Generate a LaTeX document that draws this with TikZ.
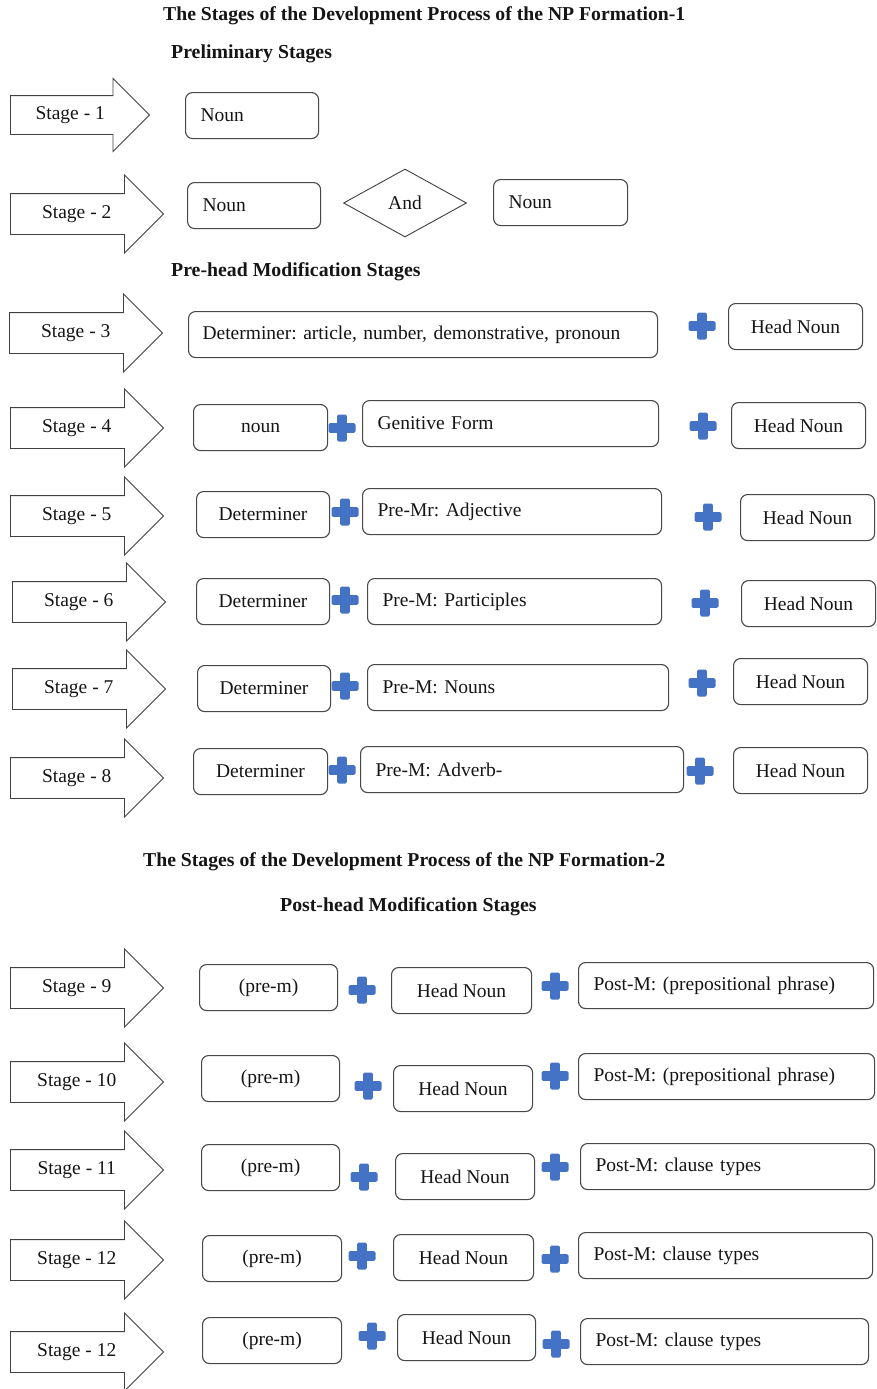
\documentclass[tikz,border=0pt]{standalone}
\usepackage{fontspec}
\setmainfont{Liberation Serif}
\usetikzlibrary{shapes.geometric, shapes.arrows, positioning}
\definecolor{plusblue}{HTML}{4472C4}
\definecolor{ink}{HTML}{151515}
\frenchspacing

\tikzset{
  stage/.style={single arrow, draw=black!75, line width=0.9pt, single arrow head extend=18.5pt,
    minimum width=77pt, minimum height=153pt, inner ysep=12pt, text height=12pt, text depth=4pt, anchor=tail},
  cbox/.style={draw=black!72, line width=1.1pt, rounded corners=7pt, minimum height=46pt, anchor=north west},
  lbox/.style={cbox, align=left, inner xsep=15pt},
  andbox/.style={diamond, draw=black!75, line width=0.9pt, minimum width=123pt, minimum height=68pt, inner sep=0pt},
  plus/.style={minimum size=27pt, inner sep=0pt, path picture={
      \fill[plusblue, rounded corners=1.5pt] ([xshift=-4.9pt]path picture bounding box.north) rectangle ([xshift=4.9pt]path picture bounding box.south);
      \fill[plusblue, rounded corners=1.5pt] ([yshift=4.9pt]path picture bounding box.west) rectangle ([yshift=-4.9pt]path picture bounding box.east);}},
  heading/.style={font=\fontsize{19.7}{23}\selectfont\bfseries, anchor=west, inner sep=0pt},
  subheading/.style={heading, font=\fontsize{19.8}{23}\selectfont\bfseries},
}

\begin{document}
\begin{tikzpicture}[x=1pt, y=-1pt, font=\fontsize{19.5}{23}\selectfont, text=ink]
\useasboundingbox (0,0) rectangle (876,1389);

% headings
\node[heading] (t1) at (163,16) {The Stages of the Development Process of the NP Formation-1};
\node[subheading] (pre) at (171,54) {Preliminary Stages};
\node[subheading] (prehead) at (171,272) {Pre-head Modification Stages};
\node[heading] (t2) at (143,862) {The Stages of the Development Process of the NP Formation-2};
\node[subheading] (posthead) at (280,907) {Post-head Modification Stages};

% preliminary stages
\node[stage, minimum height=139pt, minimum width=72pt, single arrow head extend=17pt, inner ysep=11pt] (s1) at (10,115) {Stage - 1};
\node[lbox, text width=103pt] (n1) at (185,92) {Noun};

\node[stage] (s2) at (10,214) {Stage - 2};
\node[lbox, text width=103pt] (n2a) at (187,182) {Noun};
\node[andbox] (and2) at (405,203) {And};
\node[lbox, text width=104pt] (n2b) at (493,179) {Noun};

% pre-head modification
\node[stage] (s3) at (9,333) {Stage - 3};
\node[lbox, text width=441pt, inner xsep=14pt] (det3) at (188,311) {Determiner: article, number, demonstrative, pronoun};
\node[plus] (p3) at (702,326) {};
\node[cbox, minimum width=134pt] (hn3) at (728,303) {Head Noun};

\node[stage] (s4) at (10,428) {Stage - 4};
\node[cbox, minimum width=134pt] (nn4) at (193,404) {noun};
\node[plus] (p4a) at (342,428) {};
\node[lbox, text width=266pt] (gen4) at (362,400) {Genitive Form};
\node[plus] (p4b) at (703,426) {};
\node[cbox, minimum width=134pt] (hn4) at (731,402) {Head Noun};

\node[stage] (s5) at (10,516) {Stage - 5};
\node[cbox, minimum width=133pt] (det5) at (196,491) {Determiner};
\node[plus] (p5a) at (345,512) {};
\node[lbox, text width=269pt] (adj5) at (362,488) {Pre-Mr: Adjective};
\node[plus] (p5b) at (708,517) {};
\node[cbox, minimum width=134pt] (hn5) at (740,494) {Head Noun};

\node[stage] (s6) at (12,602) {Stage - 6};
\node[cbox, minimum width=133pt] (det6) at (196,578) {Determiner};
\node[plus] (p6a) at (345,600) {};
\node[lbox, text width=264pt] (part6) at (367,578) {Pre-M: Participles};
\node[plus] (p6b) at (705,603) {};
\node[cbox, minimum width=134pt] (hn6) at (741,580) {Head Noun};

\node[stage] (s7) at (12,689) {Stage - 7};
\node[cbox, minimum width=133pt] (det7) at (197,665) {Determiner};
\node[plus] (p7a) at (345,686) {};
\node[lbox, text width=271pt] (nouns7) at (367,664) {Pre-M: Nouns};
\node[plus] (p7b) at (702,683) {};
\node[cbox, minimum width=134pt] (hn7) at (733,658) {Head Noun};

\node[stage] (s8) at (10,778) {Stage - 8};
\node[cbox, minimum width=134pt] (det8) at (193,748) {Determiner};
\node[plus] (p8a) at (342,770) {};
\node[lbox, text width=293pt] (adv8) at (360,746) {Pre-M: Adverb-};
\node[plus] (p8b) at (700,771) {};
\node[cbox, minimum width=134pt] (hn8) at (733,747) {Head Noun};

% post-head modification
\node[stage] (s9) at (10,988) {Stage - 9};
\node[cbox, minimum width=138pt] (pm9) at (199,964) {(pre-m)};
\node[plus] (p9a) at (362,990) {};
\node[cbox, minimum width=140pt] (hn9) at (391,967) {Head Noun};
\node[plus] (p9b) at (555,986) {};
\node[lbox, text width=265pt] (post9) at (578,962) {Post-M: (prepositional phrase)};

\node[stage] (s10) at (10,1082) {Stage - 10};
\node[cbox, minimum width=138pt] (pm10) at (201,1055) {(pre-m)};
\node[plus] (p10a) at (368,1086) {};
\node[cbox, minimum width=139pt] (hn10) at (393,1065) {Head Noun};
\node[plus] (p10b) at (555,1076) {};
\node[lbox, text width=266pt] (post10) at (578,1053) {Post-M: (prepositional phrase)};

\node[stage] (s11) at (10,1170) {Stage - 11};
\node[cbox, minimum width=138pt] (pm11) at (201,1144) {(pre-m)};
\node[plus] (p11a) at (364,1177) {};
\node[cbox, minimum width=139pt] (hn11) at (395,1153) {Head Noun};
\node[plus] (p11b) at (555,1167) {};
\node[lbox, text width=264pt] (post11) at (580,1143) {Post-M: clause types};

\node[stage] (s12) at (10,1260) {Stage - 12};
\node[cbox, minimum width=139pt] (pm12) at (202,1235) {(pre-m)};
\node[plus] (p12a) at (362,1256) {};
\node[cbox, minimum width=140pt] (hn12) at (393,1234) {Head Noun};
\node[plus] (p12b) at (555,1259) {};
\node[lbox, text width=264pt] (post12) at (578,1232) {Post-M: clause types};

\node[stage] (s13) at (10,1352) {Stage - 12};
\node[cbox, minimum width=139pt] (pm13) at (202,1317) {(pre-m)};
\node[plus] (p13a) at (372,1336) {};
\node[cbox, minimum width=138pt] (hn13) at (397,1314) {Head Noun};
\node[plus] (p13b) at (556,1344) {};
\node[lbox, text width=258pt] (post13) at (580,1318) {Post-M: clause types};
\end{tikzpicture}
\end{document}
